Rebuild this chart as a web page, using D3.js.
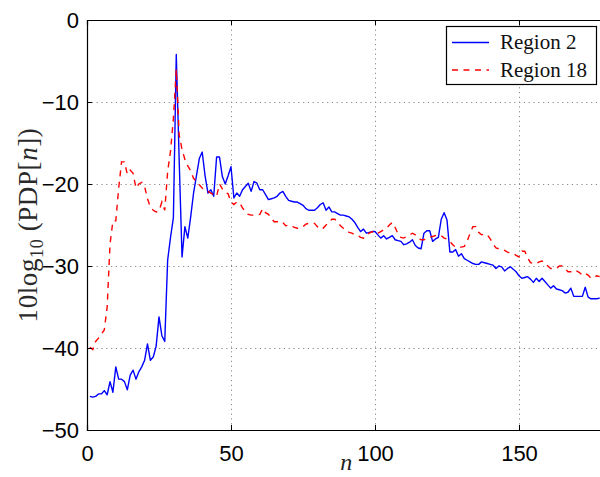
<!DOCTYPE html>
<html>
<head>
<meta charset="utf-8">
<script src="https://d3js.org/d3.v7.min.js"></script>
<style>
  html, body { margin: 0; padding: 0; background: #fff; }
  svg { display: block; }
</style>
</head>
<body>
<div id="chart"></div>
<script>
// Delay-tap index n for each series (1..178)
const tapIndex = d3.range(1, 179);

// Power delay profile, 10log10(PDP[n]) in dB
const region2 = [
  -45.9, -46.0, -45.9, -45.6, -45.6, -45.2, -45.7, -44.1, -45.4, -42.3,
  -43.8, -43.8, -44.1, -45.1, -43.3, -42.7, -43.8, -42.9, -42.3, -41.5,
  -39.5, -41.5, -41.1, -39.8, -36.2, -38.5, -39.2, -29.3, -26.5, -24.1,
  -4.2, -17.0, -28.9, -25.2, -26.6, -24.0, -21.1, -19.0, -16.9, -16.1,
  -19.0, -21.1, -20.7, -21.5, -16.7, -16.7, -19.1, -20.0, -19.0, -17.9,
  -21.7, -21.1, -21.5, -20.7, -20.3, -19.9, -20.9, -19.7, -19.9, -20.7,
  -20.7, -21.3, -21.9, -21.8, -21.7, -21.5, -21.1, -20.9, -21.5, -22.0,
  -22.1, -22.2, -22.2, -22.4, -22.6, -23.0, -23.2, -23.2, -23.2, -22.9,
  -22.5, -22.3, -23.2, -22.8, -23.4, -23.4, -23.6, -23.8, -23.8, -23.9,
  -24.0, -24.3, -24.7, -25.3, -25.8, -25.5, -26.0, -25.9, -25.8, -25.8,
  -26.2, -26.6, -26.3, -26.7, -26.5, -26.3, -26.8, -26.9, -27.0, -27.4,
  -27.3, -27.1, -26.8, -27.5, -27.8, -27.9, -26.0, -25.7, -25.7, -27.0,
  -26.7, -26.5, -24.3, -23.5, -24.4, -28.3, -28.3, -28.0, -28.8, -28.5,
  -29.1, -29.3, -29.5, -29.7, -29.8, -29.8, -29.5, -29.6, -29.7, -29.8,
  -29.9, -30.3, -30.0, -30.1, -30.6, -30.3, -30.1, -30.4, -30.7, -31.2,
  -31.5, -31.4, -31.3, -31.6, -32.0, -31.5, -31.9, -31.5, -31.9, -32.3,
  -32.7, -32.4, -32.8, -32.9, -33.0, -33.3, -33.2, -32.7, -33.7, -33.7,
  -33.7, -33.7, -32.6, -33.8, -34.0, -34.0, -34.0, -33.9
];

const region18 = [
  -39.9, -40.2, -39.2, -38.8, -38.3, -37.8, -35.0, -27.3, -24.5, -24.5,
  -20.5, -17.3, -17.3, -18.8, -18.3, -18.7, -20.5, -20.0, -19.8, -20.3,
  -21.8, -22.8, -23.2, -23.4, -23.3, -22.2, -23.2, -18.5, -16.0, -12.0,
  -6.0, -14.0, -15.8, -17.0, -17.8, -18.4, -19.3, -19.7, -20.1, -20.5,
  -20.8, -20.9, -21.1, -21.3, -21.5, -20.0, -20.6, -21.0, -21.2, -22.2,
  -22.5, -22.2, -22.3, -22.9, -23.4, -23.7, -23.8, -23.8, -23.8, -23.7,
  -23.0, -23.5, -23.7, -24.2, -24.6, -24.6, -24.5, -24.7, -25.1, -25.0,
  -25.1, -25.3, -25.4, -25.4, -25.2, -24.9, -24.8, -24.8, -24.8, -25.2,
  -25.5, -25.4, -25.0, -24.7, -24.3, -24.3, -24.6, -25.1, -25.4, -25.6,
  -25.9, -26.0, -26.2, -26.3, -26.5, -26.6, -26.2, -26.0, -25.8, -26.1,
  -26.0, -25.8, -25.6, -25.4, -25.0, -24.7, -25.3, -26.1, -26.5, -26.6,
  -26.4, -26.2, -26.0, -26.2, -26.6, -26.8, -26.8, -26.6, -26.5, -26.4,
  -26.3, -26.2, -26.3, -26.6, -26.7, -27.0, -27.4, -27.7, -27.7, -27.7,
  -27.6, -27.0, -26.0, -25.2, -25.2, -25.9, -26.2, -26.1, -26.2, -26.7,
  -27.3, -27.8, -27.9, -28.0, -28.1, -28.3, -28.4, -28.5, -28.7, -28.9,
  -28.2, -28.2, -29.0, -29.6, -29.7, -29.7, -29.5, -29.4, -29.6, -30.0,
  -30.3, -30.3, -30.3, -30.0, -30.0, -30.3, -30.7, -30.7, -30.5, -30.6,
  -30.8, -31.1, -30.9, -31.1, -31.5, -31.4, -31.2, -31.3
];

const seriesNames = ["Region 2", "Region 18"];
const xTicks = [0, 50, 100, 150];
const yTicks = [0, -10, -20, -30, -40, -50];
const xDomain = [0, 180];
const yDomain = [-50, 0];

const W = 600, H = 477;
const plot = { left: 87, right: 605.4, top: 20, bottom: 430 };

const svg = d3.select("#chart").append("svg")
  .attr("width", W).attr("height", H)
  .attr("viewBox", `0 0 ${W} ${H}`);

const x = d3.scaleLinear().domain(xDomain).range([plot.left, plot.right]);
const y = d3.scaleLinear().domain(yDomain).range([plot.bottom, plot.top]);

const sansFont = "'Liberation Sans', Arial, Helvetica, sans-serif";
const serifFont = "'Liberation Serif', 'Times New Roman', serif";
const dashPattern = "6,5.5";

svg.append("defs").append("clipPath").attr("id", "plot-clip")
  .append("rect")
  .attr("x", plot.left).attr("y", plot.top)
  .attr("width", plot.right - plot.left).attr("height", plot.bottom - plot.top);

// Dotted grid
const grid = svg.append("g").attr("stroke", "#8a8a8a").attr("stroke-width", 1)
  .attr("stroke-dasharray", "1.2,3.6").attr("fill", "none");
xTicks.filter(t => t > xDomain[0]).forEach(t => {
  grid.append("line").attr("x1", x(t) + 0.5).attr("x2", x(t) + 0.5)
    .attr("y1", plot.top).attr("y2", plot.bottom);
});
yTicks.filter(t => t > yDomain[0] && t < yDomain[1]).forEach(t => {
  grid.append("line").attr("x1", plot.left).attr("x2", plot.right)
    .attr("y1", Math.round(y(t)) + 0.5).attr("y2", Math.round(y(t)) + 0.5);
});

// Data lines
const line = d3.line()
  .x((d, i) => x(tapIndex[i]))
  .y(d => y(d));

const lines = svg.append("g").attr("clip-path", "url(#plot-clip)");
lines.append("path").datum(region2)
  .attr("d", line)
  .attr("fill", "none").attr("stroke", "#0000ff").attr("stroke-width", 1.4)
  .attr("stroke-linejoin", "round");
lines.append("path").datum(region18.slice(0, tapIndex.length))
  .attr("d", line)
  .attr("fill", "none").attr("stroke", "#ff0000").attr("stroke-width", 1.4)
  .attr("stroke-dasharray", dashPattern);

// Axes: box with inward ticks on all four sides
const tickLen = 5;
const bottomAxis = d3.axisBottom(x).tickValues(xTicks).tickSize(-tickLen).tickPadding(10)
  .tickFormat(d => String(d));
const topAxis = d3.axisTop(x).tickValues(xTicks).tickSize(-tickLen).tickFormat("");
const leftAxis = d3.axisLeft(y).tickValues(yTicks).tickSize(-tickLen).tickPadding(8)
  .tickFormat(d => d < 0 ? "\u2212" + Math.abs(d) : String(d));
const rightAxis = d3.axisRight(y).tickValues(yTicks).tickSize(-tickLen).tickFormat("");

function styleAxis(g) {
  g.select(".domain").attr("stroke", "#000").attr("stroke-width", 1.2);
  g.selectAll(".tick line").attr("stroke", "#000").attr("stroke-width", 1);
  g.selectAll(".tick text")
    .attr("fill", "#000")
    .style("font-family", sansFont)
    .style("font-size", "22px");
}

svg.append("g").attr("transform", `translate(0,${plot.bottom})`).call(bottomAxis).call(styleAxis)
  .selectAll(".tick text").attr("dy", "0.95em");
svg.append("g").attr("transform", `translate(0,${plot.top})`).call(topAxis).call(styleAxis);
svg.append("g").attr("transform", `translate(${plot.left},0)`).call(leftAxis).call(styleAxis)
  .selectAll(".tick text").attr("dy", "0.36em");
svg.append("g").attr("transform", `translate(${plot.right},0)`).call(rightAxis).call(styleAxis);

// Axis titles
svg.append("text")
  .attr("x", (plot.left + plot.right) / 2).attr("y", 470)
  .attr("text-anchor", "middle")
  .style("font-family", serifFont).style("font-style", "italic").style("font-size", "24px")
  .attr("fill", "#222")
  .text("n");

const yTitle = svg.append("text")
  .attr("transform", `translate(37,${(plot.top + plot.bottom) / 2}) rotate(-90)`)
  .attr("text-anchor", "middle")
  .style("font-family", serifFont).style("font-size", "27px")
  .style("letter-spacing", "0.6px")
  .attr("fill", "#2a2a2a");
yTitle.append("tspan").text("10log");
yTitle.append("tspan").attr("dy", 6).style("font-size", "18px").text("10");
yTitle.append("tspan").attr("dy", -6).text(" (PDP[");
yTitle.append("tspan").style("font-style", "italic").text("n");
yTitle.append("tspan").text("])");

// Legend
const legend = svg.append("g");
legend.append("rect")
  .attr("x", 446.5).attr("y", 26.5).attr("width", 150).attr("height", 58)
  .attr("fill", "#fff").attr("stroke", "#000").attr("stroke-width", 1.2);
const legendStyles = [
  { color: "#0000ff", dash: null },
  { color: "#ff0000", dash: dashPattern }
];
seriesNames.forEach((name, i) => {
  const cy = 42.5 + i * 27.5;
  legend.append("line")
    .attr("x1", 452).attr("x2", 489).attr("y1", cy).attr("y2", cy)
    .attr("stroke", legendStyles[i].color).attr("stroke-width", 1.4)
    .attr("stroke-dasharray", legendStyles[i].dash);
  legend.append("text")
    .attr("x", 500).attr("y", cy + 6.5)
    .style("font-family", serifFont).style("font-size", "21px")
    .attr("fill", "#111")
    .text(name);
});
</script>
</body>
</html>
